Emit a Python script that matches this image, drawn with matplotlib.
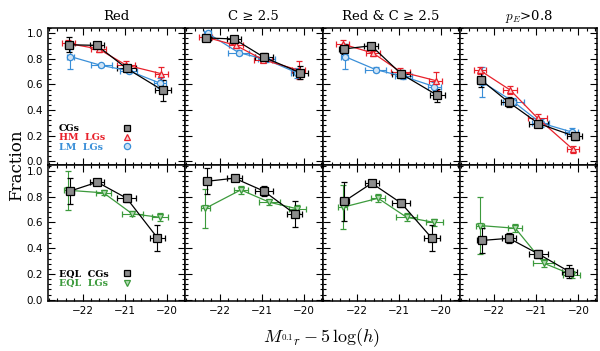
import matplotlib
matplotlib.use("Agg")
import matplotlib.pyplot as plt
from matplotlib.lines import Line2D
from matplotlib.ticker import MultipleLocator

# panel titles
titles = ["Red", "C \u2265 2.5", "Red & C \u2265 2.5", r"$p_{E}$>0.8"]

# magnitude bin positions
x_cg_top = [-22.32, -21.66, -20.95, -20.09]
x_hm = [-22.34, -21.62, -20.97, -20.13]
x_lm = [-22.29, -21.55, -20.90, -20.16]
x_cg_bot = [-22.30, -21.65, -20.95, -20.22]
x_eql = [-22.34, -21.50, -20.82, -20.16]

# horizontal error bars
xerr_cg = [0.10, 0.17, 0.22, 0.18]
xerr_hm = [0.15, 0.17, 0.22, 0.15]
xerr_lm = [0.08, 0.25, 0.20, 0.15]
xerr_eql = [0.10, 0.17, 0.25, 0.20]

# top row: one list per panel
cg_top = [[0.910, 0.905, 0.725, 0.553],
          [0.963, 0.955, 0.812, 0.692],
          [0.877, 0.902, 0.682, 0.515],
          [0.637, 0.462, 0.295, 0.195]]
cg_top_err = [[0.06, 0.02, 0.03, 0.08],
              [0.02, 0.02, 0.03, 0.05],
              [0.04, 0.02, 0.03, 0.05],
              [0.06, 0.04, 0.03, 0.03]]
hm = [[0.920, 0.877, 0.752, 0.684],
      [0.970, 0.905, 0.793, 0.712],
      [0.915, 0.845, 0.700, 0.630],
      [0.710, 0.556, 0.337, 0.093]]
hm_err = [[0.03, 0.02, 0.03, 0.05],
          [0.02, 0.02, 0.02, 0.07],
          [0.03, 0.02, 0.03, 0.07],
          [0.03, 0.03, 0.03, 0.03]]
lm = [[0.818, 0.748, 0.707, 0.610],
      [1.000, 0.848, 0.795, 0.690],
      [0.818, 0.715, 0.663, 0.583],
      [0.620, 0.466, 0.300, 0.229]]
lm_err = [[0.10, 0.015, 0.02, 0.04],
          [0.02, 0.02, 0.02, 0.04],
          [0.10, 0.02, 0.02, 0.04],
          [0.12, 0.03, 0.03, 0.03]]

# bottom row: equal-luminosity samples
cg_bot = [[0.843, 0.913, 0.788, 0.480],
          [0.920, 0.944, 0.843, 0.667],
          [0.765, 0.905, 0.750, 0.477],
          [0.460, 0.477, 0.355, 0.218]]
cg_bot_err = [[0.10, 0.02, 0.03, 0.10],
              [0.10, 0.02, 0.04, 0.10],
              [0.15, 0.02, 0.03, 0.10],
              [0.10, 0.04, 0.03, 0.05]]
eql = [[0.850, 0.830, 0.667, 0.640],
       [0.710, 0.853, 0.757, 0.706],
       [0.718, 0.788, 0.640, 0.600],
       [0.576, 0.555, 0.283, 0.195]]
eql_err = [[0.15, 0.02, 0.02, 0.03],
           [0.15, 0.03, 0.02, 0.03],
           [0.17, 0.03, 0.03, 0.03],
           [0.22, 0.03, 0.03, 0.03]]

RED = "#e8212b"
BLUE = "#3a8fd8"
GREEN = "#3c9a3c"

plt.rcParams["mathtext.fontset"] = "cm"

fig, axes = plt.subplots(2, 4, figsize=(6.0, 3.51), dpi=100, sharex=True)
fig.subplots_adjust(left=0.08, right=0.995, top=0.92, bottom=0.1425, wspace=0, hspace=0)


def draw(ax, x, y, xe, ye, color, marker, face, ms):
    ax.errorbar(x, y, xerr=xe, yerr=ye, color=color, marker=marker, ms=ms,
                mfc=face, mec=color, mew=0.9, lw=0.9, elinewidth=0.8,
                capsize=2.0, capthick=0.8)


def key_legend(ax, handles, labels, colors):
    # text column on the left, marker column further right (as in the original)
    prop = {"family": "DejaVu Serif", "size": 6.8, "weight": "bold"}
    opts = dict(loc="lower left", frameon=False, prop=prop,
                labelspacing=0.05, borderpad=0.2)
    marks = ax.legend(handles, [""] * len(handles), bbox_to_anchor=(0.50, 0.045),
                      handlelength=0.8, handletextpad=0, **opts)
    ax.add_artist(marks)
    blank = [Line2D([], [], ls="none") for _ in labels]
    ax.legend(blank, labels, bbox_to_anchor=(0.03, 0.045), labelcolor=colors,
              handlelength=0, handletextpad=0, **opts)


for i in range(4):
    ax = axes[0, i]
    draw(ax, x_lm, lm[i], xerr_lm, lm_err[i], BLUE, "o", "#cfe3f5", 4.5)
    draw(ax, x_hm, hm[i], xerr_hm, hm_err[i], RED, "^", "#f8d0d2", 4.5)
    draw(ax, x_cg_top, cg_top[i], xerr_cg, cg_top_err[i], "black", "s", "#8c8c8c", 5.5)
    ax.set_title(titles[i], fontsize=9.5, family="DejaVu Serif", pad=6)
    ax.set_ylim(-0.025, 1.04)

    ax = axes[1, i]
    draw(ax, x_eql, eql[i], xerr_eql, eql_err[i], GREEN, "v", "#b5dbb5", 4.5)
    draw(ax, x_cg_bot, cg_bot[i], xerr_cg, cg_bot_err[i], "black", "s", "#8c8c8c", 5.5)
    ax.set_ylim(-0.01, 1.05)

for ax in axes.flat:
    ax.set_xlim(-22.82, -19.56)
    ax.xaxis.set_major_locator(MultipleLocator(1))
    ax.xaxis.set_minor_locator(MultipleLocator(0.2))
    ax.yaxis.set_major_locator(MultipleLocator(0.2))
    ax.yaxis.set_minor_locator(MultipleLocator(0.04))
    ax.tick_params(which="both", direction="in", top=True, right=True, labelsize=7.5)
    ax.tick_params(which="major", length=5, width=0.8)
    ax.tick_params(which="minor", length=2.5, width=0.8)
    for s in ax.spines.values():
        s.set_linewidth(1.1)

for ax in axes[:, 1:].flat:
    ax.tick_params(labelleft=False)

for ax in axes[:, 0]:
    ax.set_yticks([0.0, 0.2, 0.4, 0.6, 0.8, 1.0])
    ax.set_yticklabels(["0.0", "0.2", "0.4", "0.6", "0.8", "1.0"])
axes[1, 0].set_xticks([-22, -21, -20])
axes[1, 0].set_xticklabels(["\u221222", "\u221221", "\u221220"])

sq = Line2D([], [], ls="none", marker="s", ms=5, mfc="#8c8c8c", mec="black", mew=0.9)
tri = Line2D([], [], ls="none", marker="^", ms=4.5, mfc="#f8d0d2", mec=RED, mew=0.9)
circ = Line2D([], [], ls="none", marker="o", ms=4.5, mfc="#cfe3f5", mec=BLUE, mew=0.9)
vtri = Line2D([], [], ls="none", marker="v", ms=4.5, mfc="#b5dbb5", mec=GREEN, mew=0.9)

key_legend(axes[0, 0], [sq, tri, circ], ["CGs", "HM  LGs", "LM  LGs"], ["black", RED, BLUE])
key_legend(axes[1, 0], [sq, vtri], ["EQL  CGs", "EQL  LGs"], ["black", GREEN])

fig.supylabel("Fraction", x=0.013, y=0.53, fontsize=12, family="DejaVu Serif")
fig.supxlabel(r"$M_{^{0.1}r} - 5\,\log(h)$", x=0.535, y=0.005, fontsize=13)

plt.savefig("out.png", dpi=100)
